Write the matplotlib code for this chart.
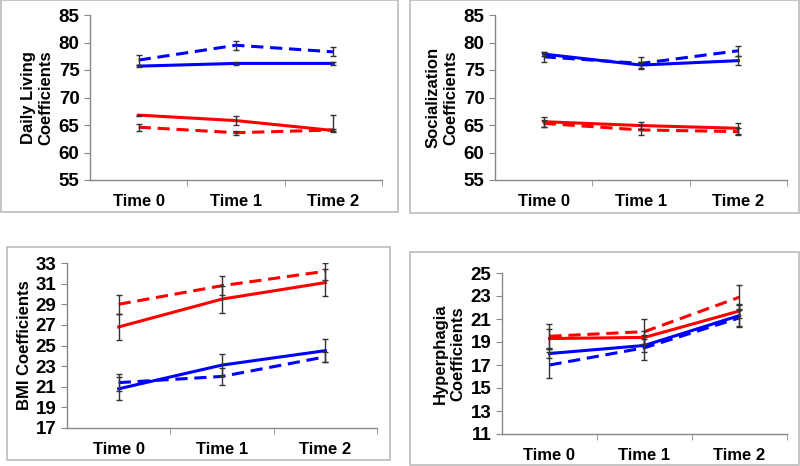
import matplotlib
matplotlib.use("Agg")
import matplotlib.pyplot as plt
from matplotlib.patches import Rectangle

plt.rcParams['font.family'] = ['Liberation Sans', 'DejaVu Sans']
plt.rcParams['font.weight'] = 'bold'

times = ["Time 0", "Time 1", "Time 2"]

# Daily living
dl_blue_solid = [75.7, 76.2, 76.2]
dl_blue_solid_err = [0.2, 0.2, 0.3]
dl_blue_dash = [76.8, 79.5, 78.3]
dl_blue_dash_err = [0.9, 0.8, 0.8]
dl_red_solid = [66.8, 65.8, 64.0]
dl_red_solid_err_lo = [0.2, 0.8, 0.2]
dl_red_solid_err_hi = [0.1, 0.9, 2.8]
dl_red_dash = [64.6, 63.6, 64.1]
dl_red_dash_err = [0.6, 0.4, 0.2]

# Socialization
so_blue_solid = [77.9, 75.9, 76.7]
so_blue_solid_err = [0.3, 0.6, 0.8]
so_blue_dash = [77.4, 76.2, 78.5]
so_blue_dash_err = [0.9, 1.1, 0.9]
so_red_solid = [65.6, 64.9, 64.4]
so_red_solid_err = [0.9, 0.6, 1.0]
so_red_dash = [65.3, 64.1, 63.8]
so_red_dash_err = [0.7, 0.9, 0.7]

# BMI
bmi_red_dash = [29.0, 30.8, 32.2]
bmi_red_dash_err = [0.9, 0.9, 0.8]
bmi_red_solid = [26.8, 29.5, 31.1]
bmi_red_solid_err = [1.3, 1.3, 1.3]
bmi_blue_solid = [20.8, 23.1, 24.5]
bmi_blue_solid_err = [1.1, 1.1, 1.1]
bmi_blue_dash = [21.4, 22.0, 23.9]
bmi_blue_dash_err = [0.8, 0.85, 0.5]

# Hyperphagia
hy_red_dash = [19.5, 19.9, 22.9]
hy_red_dash_err = [1.1, 1.1, 1.1]
hy_red_solid = [19.3, 19.4, 21.7]
hy_red_solid_err = [0.8, 0.6, 0.6]
hy_blue_solid = [18.0, 18.7, 21.3]
hy_blue_solid_err = [0.4, 0.6, 0.9]
hy_blue_dash = [17.0, 18.5, 21.1]
hy_blue_dash_err = [1.15, 1.1, 0.8]

BLUE = "#0000ff"
RED = "#ff0000"
GRID = "#888888"

fig = plt.figure(figsize=(8, 4.66), dpi=100)

# gray frames around each panel (figure pixels: x0, y0_top, x1, y1_bottom)
frames = [(1, 0, 398, 212), (410, 0, 799, 213), (7, 247, 390, 460), (410, 252, 799, 465)]
for x0, t, x1, b in frames:
    fig.patches.append(Rectangle((x0 / 800, 1 - b / 466), (x1 - x0) / 800, (b - t) / 466,
                                 transform=fig.transFigure, fill=False,
                                 edgecolor="#bbbbbb", linewidth=1.2))


def panel(rect, ylim, yticks, ylabel, series, pad=6):
    ax = fig.add_axes(rect)
    x = range(len(times))
    for y, lo, hi, color, ls in series:
        ax.plot(x, y, color=color, linestyle=ls, linewidth=2.2,
                dashes=(4, 2.2) if ls == "--" else (None, None), zorder=2)
        ax.errorbar(x, y, yerr=[lo, hi], fmt="none", ecolor="#333333",
                    elinewidth=1, capsize=2.5, capthick=1, zorder=3)
    ax.set_xlim(-0.5, 2.5)
    ax.set_ylim(*ylim)
    ax.set_yticks(yticks)
    ax.set_xticks(list(x))
    ax.set_xticklabels(times, fontsize=12, fontweight="bold")
    ax.set_xticks([0.5, 1.5, 2.5], minor=True)
    ax.tick_params(axis="x", which="major", length=0, pad=10)
    ax.tick_params(axis="x", which="minor", length=4, color=GRID, direction="out")
    ax.tick_params(axis="y", length=4, color=GRID, labelsize=13.5)
    for lab in ax.get_yticklabels():
        lab.set_fontweight("bold")
    for s in ("top", "right"):
        ax.spines[s].set_visible(False)
    for s in ("left", "bottom"):
        ax.spines[s].set_color(GRID)
        ax.spines[s].set_linewidth(1)
    ax.set_ylabel(ylabel, fontsize=12, fontweight="bold", labelpad=pad)
    return ax


panel([90 / 800, 1 - 180 / 466, 292 / 800, 165 / 466], (55, 85), range(55, 86, 5),
      "Daily Living\nCoefficients",
      [(dl_blue_dash, dl_blue_dash_err, dl_blue_dash_err, BLUE, "--"),
       (dl_blue_solid, dl_blue_solid_err, dl_blue_solid_err, BLUE, "-"),
       (dl_red_solid, dl_red_solid_err_lo, dl_red_solid_err_hi, RED, "-"),
       (dl_red_dash, dl_red_dash_err, dl_red_dash_err, RED, "--")], pad=4)

panel([495 / 800, 1 - 180 / 466, 292 / 800, 165 / 466], (55, 85), range(55, 86, 5),
      "Socialization\nCoefficients",
      [(so_blue_dash, so_blue_dash_err, so_blue_dash_err, BLUE, "--"),
       (so_blue_solid, so_blue_solid_err, so_blue_solid_err, BLUE, "-"),
       (so_red_solid, so_red_solid_err, so_red_solid_err, RED, "-"),
       (so_red_dash, so_red_dash_err, so_red_dash_err, RED, "--")], pad=4)

panel([67 / 800, 1 - 428 / 466, 310 / 800, 165 / 466], (17, 33), range(17, 34, 2),
      "BMI Coefficients",
      [(bmi_red_dash, bmi_red_dash_err, bmi_red_dash_err, RED, "--"),
       (bmi_red_solid, bmi_red_solid_err, bmi_red_solid_err, RED, "-"),
       (bmi_blue_solid, bmi_blue_solid_err, bmi_blue_solid_err, BLUE, "-"),
       (bmi_blue_dash, bmi_blue_dash_err, bmi_blue_dash_err, BLUE, "--")], pad=3)

panel([502 / 800, 1 - 434 / 466, 285 / 800, 161 / 466], (11, 25), range(11, 26, 2),
      "Hyperphagia\nCoefficients",
      [(hy_red_dash, hy_red_dash_err, hy_red_dash_err, RED, "--"),
       (hy_red_solid, hy_red_solid_err, hy_red_solid_err, RED, "-"),
       (hy_blue_solid, hy_blue_solid_err, hy_blue_solid_err, BLUE, "-"),
       (hy_blue_dash, hy_blue_dash_err, hy_blue_dash_err, BLUE, "--")], pad=4)

fig.savefig("out.png", dpi=100)
